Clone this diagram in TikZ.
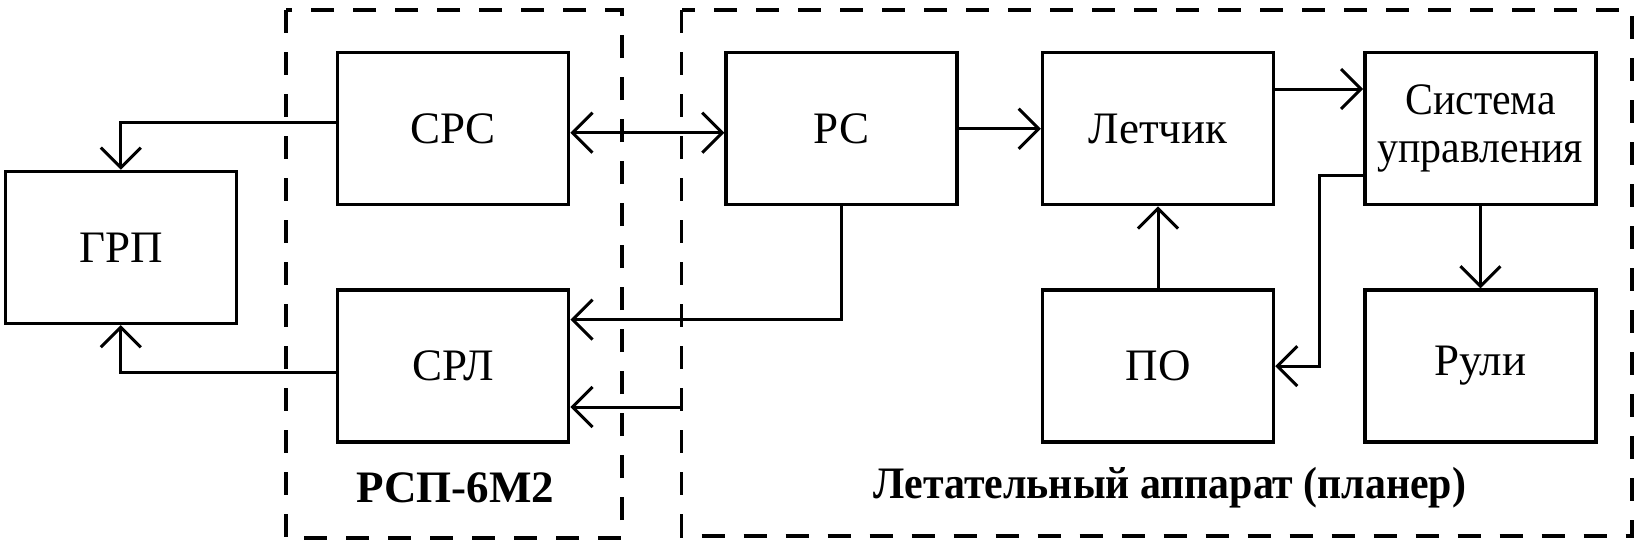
\documentclass[tikz,border=0pt]{standalone}
\usepackage{fontspec}
\setmainfont{Liberation Serif}
\newfontfamily\narrowserif{Liberation Serif}[FakeStretch=0.93]
\usepackage{tikz}
\usetikzlibrary{arrows.meta, positioning, calc}

\begin{document}
\begin{tikzpicture}[
  node distance=41pt,
  box/.style={
    draw=black,
    line width=1.7pt,
    minimum width=115.5pt,
    minimum height=76pt,
    inner sep=0pt,
    align=center,
    font=\fontsize{22.5}{24}\selectfont
  },
  frame/.style={line width=1.7pt, dash pattern=on 11.5pt off 9.5pt},
  title/.style={font=\fontsize{22.5}{26}\selectfont\bfseries},
  arrow/.style={-{Straight Barb[length=10pt, width=20pt, line width=1.5pt]}, line width=1.5pt}
]
\useasboundingbox (0,0) rectangle (819pt,-274pt);

\node[box, anchor=north west] (srs) at (168pt,-25.5pt) {СРС};
\node[box, below=of srs] (srl) {СРЛ};
\coordinate (mid) at ($(srs.west)!0.5!(srl.west)$);
\node[box, left=49pt of mid] (grp) {ГРП};
\node[box, right=77pt of srs] (rs) {РС};
\node[box, right=41pt of rs] (pilot) {Летчик};
\node[box, right=44pt of pilot] (sys) {\narrowserif Система\\\narrowserif управления};
\node[box, below=of pilot] (po) {ПО};
\node[box, below=of sys] (rudder) {Рули};

% frames
\draw[frame] (143pt,-5pt) rectangle (311pt,-269pt);
\draw[frame] (340.75pt,-5pt) rectangle (816pt,-268pt);
\node[title] (rsplabel) at (227.5pt,-244pt) {РСП-6М2};
\node[title] (aclabel) at (585pt,-244pt) {\narrowserif\bfseries Летательный аппарат (планер)};

% connections
\coordinate (ext) at (340.75pt,-203.5pt);
\draw[arrow] ([yshift=3pt]srs.west) -| (grp.north);
\draw[arrow] ([yshift=-3.25pt]srl.west) -| (grp.south);
\draw[arrow, {Straight Barb[length=10pt, width=20pt, line width=1.5pt]}-{Straight Barb[length=10pt, width=20pt, line width=1.5pt]}]
  ([yshift=-2pt]srs.east) -- ([yshift=-2pt]rs.west);
\draw[arrow] (rs) -- (pilot);
\draw[arrow] ([yshift=-19pt]pilot.north east) -- ([yshift=-19pt]sys.north west);
\draw[arrow] (rs.south) |- ([yshift=23.25pt]srl.east);
\draw[arrow] (ext) -- (srl.east |- ext);
\draw[arrow] ([yshift=15.5pt]sys.south west) -- ++(-22pt,0) |- (po.east);
\draw[arrow] (po) -- (pilot);
\draw[arrow] (sys) -- (rudder);
\end{tikzpicture}
\end{document}
